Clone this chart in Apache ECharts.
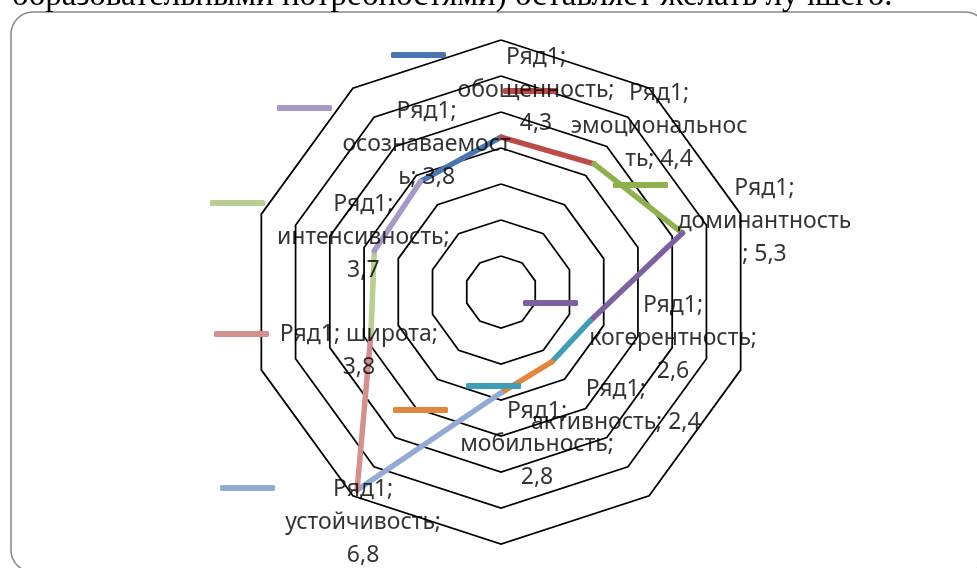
<!DOCTYPE html>
<html>
<head>
<meta charset="utf-8">
<script src="https://cdn.jsdelivr.net/npm/echarts@6/dist/echarts.min.js"></script>
<style>html,body{margin:0;padding:0;background:#fff}#c{width:977px;height:568px}</style>
</head>
<body>
<div id="c"></div>
<script>
// ---- data ----
var seriesName = 'Ряд1';
var categories = ['обощенность','эмоциональность','доминантность','когерентность','активность','мобильность','устойчивость','широта','интенсивность','осознаваемость'];
var values = [4.3, 4.4, 5.3, 2.6, 2.4, 2.8, 6.8, 3.8, 3.7, 3.8];
var axisMax = 7;
var ringCount = 7;

// ---- styles / layout (not data) ----
var colors = ['#4A76AD','#BC4B48','#8FB04F','#7C60A0','#3F9DB5','#E0873B','#93ABD3','#D29090','#B8CE93','#A898C3'];
var labelBreaks = [[5,18],[5,19],[5,19],[5,20],[5],[5,18],[5,19],[13],[5,20],[5,19]];
var labelOffsets = [[35,-47],[65,-37],[82,-12],[83,18],[64,44],[36,52],[6,32],[-12,17],[-11,-13],[6,-37]];
var legendPos = [[391,55],[503,91],[613,185],[523,303],[466,386],[393,410],[220,488],[214,334],[210,203],[277,108]];
var C = [501, 292], R = 252;

function fmt(v){ return String(v).replace('.', ','); }
function wrap(text, breaks){
  var out = [], start = 0;
  breaks.forEach(function(b){ out.push(text.slice(start, b).trim()); start = b; });
  out.push(text.slice(start).trim());
  return out.join('\n');
}

var n = categories.length;
var series = [];
// one line series per segment (each point's colour applies to the segment ending at it)
for (var i = 0; i < n; i++) {
  var p = (i - 1 + n) % n;
  series.push({
    name: categories[i],
    type: 'line',
    coordinateSystem: 'polar',
    data: [[values[p], p], [values[i], i]],
    symbol: 'none',
    color: colors[i],
    lineStyle: { width: 5.5, color: colors[i], cap: 'round' },
    silent: true,
    animation: false,
    z: 3
  });
}
// data labels
series.push({
  name: 'labels',
  type: 'scatter',
  coordinateSystem: 'polar',
  symbolSize: 0,
  animation: false,
  silent: true,
  z: 5,
  data: values.map(function(v, i){
    return {
      value: [v, i],
      label: {
        show: true,
        position: 'inside',
        offset: labelOffsets[i],
        formatter: wrap(seriesName + '; ' + categories[i] + '; ' + fmt(v), labelBreaks[i]),
        fontFamily: 'Noto Sans',
        fontSize: 23,
        lineHeight: 33,
        color: '#000',
        textBorderWidth: 0,
        align: 'center',
        verticalAlign: 'middle'
      }
    };
  })
});

var legends = categories.map(function(c, i){
  return {
    data: [c],
    left: legendPos[i][0],
    top: legendPos[i][1] - 3,
    padding: 0,
    itemGap: 0,
    icon: 'roundRect',
    itemWidth: 55,
    itemHeight: 6,
    selectedMode: false,
    formatter: function(){ return ''; },
    textStyle: { fontSize: 4, padding: 0 }
  };
});

var chart = echarts.init(document.getElementById('c'), null, { renderer: 'canvas' });
chart.setOption({
  backgroundColor: '#fff',
  animation: false,
  graphic: [
    {
      type: 'rect',
      shape: { x: 11, y: 12, width: 976, height: 560, r: 22 },
      style: { fill: null, stroke: '#878787', lineWidth: 1.5 },
      silent: true, z: 0
    },
    {
      type: 'text',
      left: 12,
      top: -20,
      style: {
        text: 'образовательными потребностями) оставляет желать лучшего.',
        font: '33px "Liberation Serif"',
        fill: '#000'
      },
      silent: true
    }
  ],
  radar: {
    center: C,
    radius: R,
    startAngle: 90,
    shape: 'polygon',
    splitNumber: ringCount,
    indicator: categories.map(function(c){ return { name: c, max: axisMax, min: 0 }; }),
    axisName: { show: false },
    axisLine: { show: false },
    axisTick: { show: false },
    axisLabel: { show: false },
    splitArea: { show: false },
    splitLine: { lineStyle: { color: '#000', width: 1.75 } },
    silent: true
  },
  polar: { center: C, radius: R },
  angleAxis: {
    type: 'value', min: 0, max: n, startAngle: 90, clockwise: true,
    axisLine: { show: false }, axisTick: { show: false }, axisLabel: { show: false }, splitLine: { show: false }
  },
  radiusAxis: {
    type: 'value', min: 0, max: axisMax,
    axisLine: { show: false }, axisTick: { show: false }, axisLabel: { show: false }, splitLine: { show: false }
  },
  legend: legends,
  series: series
});
</script>
</body>
</html>
